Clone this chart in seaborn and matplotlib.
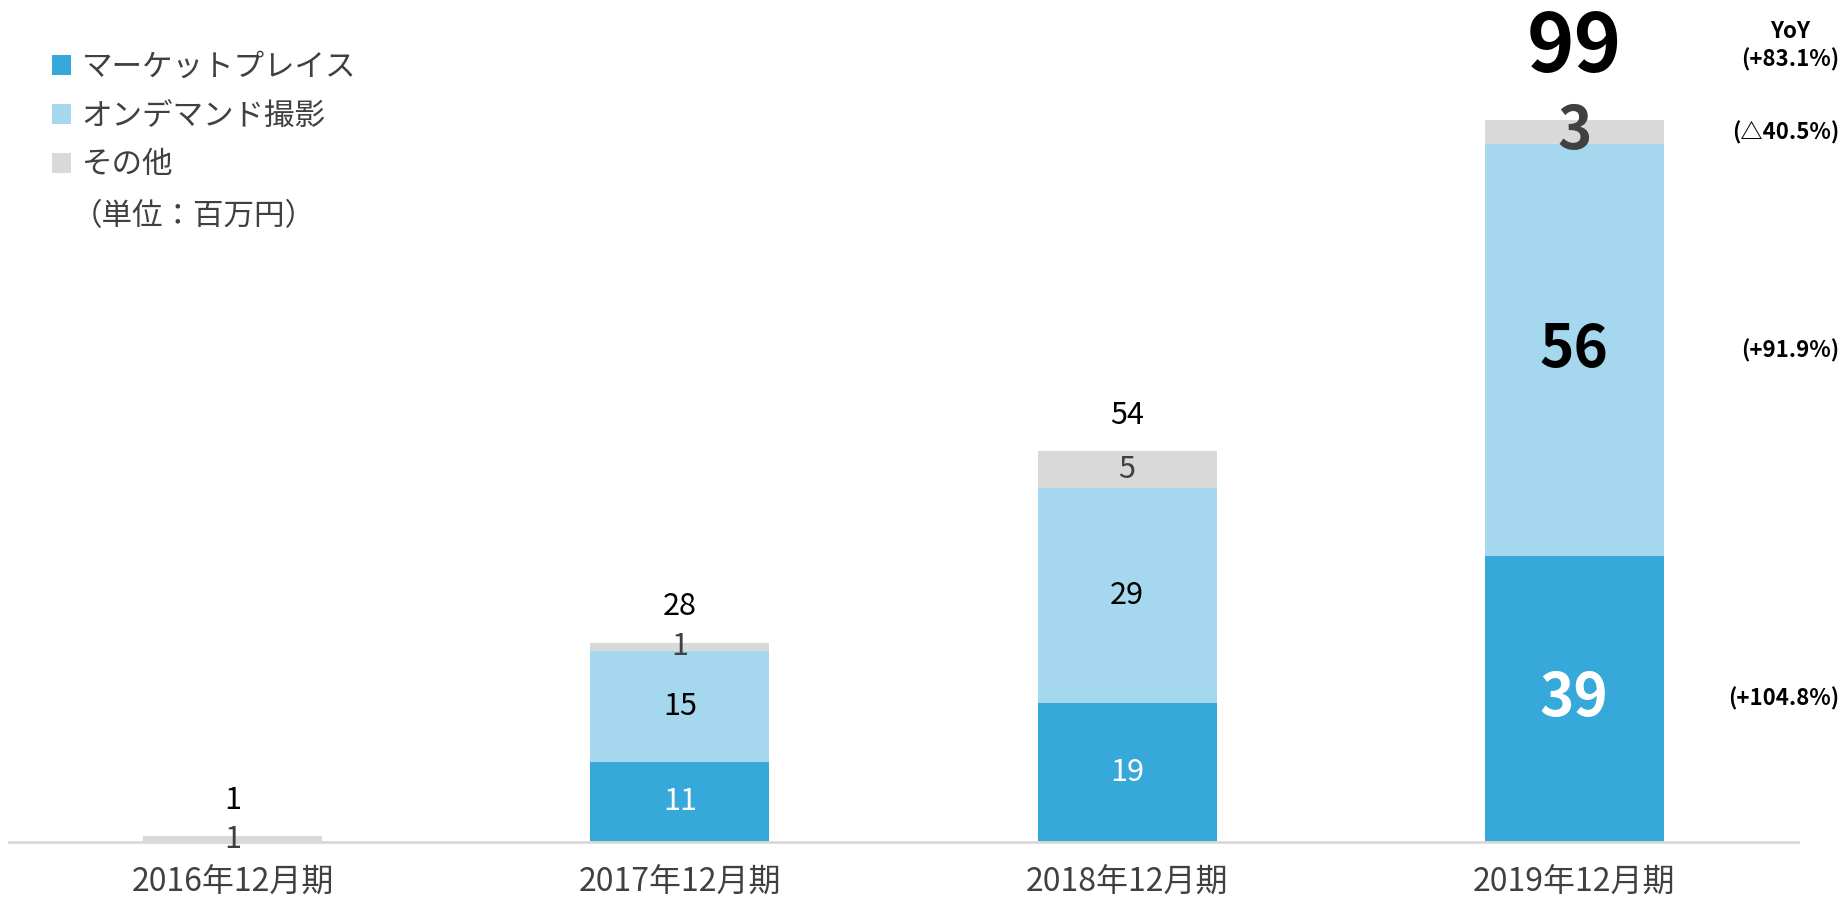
import matplotlib
matplotlib.use('Agg')
import matplotlib.pyplot as plt
from matplotlib.patches import Patch
from matplotlib.transforms import blended_transform_factory
import pandas as pd
import seaborn as sns

# data (百万円)
periods = ['2016年12月期', '2017年12月期', '2018年12月期', '2019年12月期']
marketplace = [0.0, 11.0, 19.1, 39.2]
on_demand = [0.0, 15.2, 29.4, 56.5]
other = [0.8, 1.1, 5.1, 3.3]
total_labels = ['1', '28', '54', '99']
mp_labels = ['', '11', '19', '39']
od_labels = ['', '15', '29', '56']
other_labels = ['1', '1', '5', '3']
yoy_labels = ['(+104.8%)', '(+91.9%)', '(△40.5%)', '(+83.1%)']

series_names = ['マーケットプレイス', 'オンデマンド撮影', 'その他']
colors = ['#36A8D9', '#A5D7EE', '#D9D9D9']

sns.set_theme(style='white')
plt.rcParams['font.family'] = ['Noto Sans CJK JP', 'DejaVu Sans']

df = pd.DataFrame({
    'period': periods,
    'mp': marketplace,
    'od': on_demand,
    'other': other,
})
df['mp_od'] = df['mp'] + df['od']
df['total'] = df['mp_od'] + df['other']

fig = plt.figure(figsize=(18.45, 9.02), dpi=100)
ax = fig.add_axes([9 / 1845, 60 / 902, 1789 / 1845, 842 / 902])

# stacked bars drawn as overlapping cumulative layers
for col, color in zip(['total', 'mp_od', 'mp'], [colors[2], colors[1], colors[0]]):
    sns.barplot(data=df, x='period', y=col, order=periods, color=color,
                saturation=1, width=0.4, ax=ax, errorbar=None,
                linewidth=0, edgecolor='none')

ax.set_xlim(-0.5, 3.5)
ax.set_ylim(0, 842 / 7.29)
ax.set_xlabel('')
ax.set_ylabel('')
ax.set_yticks([])
sns.despine(ax=ax, left=True, top=True, right=True)
ax.spines['bottom'].set_color('#D9D9D9')
ax.spines['bottom'].set_linewidth(2)
ax.tick_params(axis='x', length=0, pad=18, labelsize=23, labelcolor='#404040')

last = len(periods) - 1
for i, row in df.iterrows():
    big = i == last
    if row['mp'] > 0:
        ax.text(i, row['mp'] / 2, mp_labels[i], ha='center', va='center',
                color='white', fontsize=42 if big else 22,
                fontweight='bold' if big else 'normal')
    if row['od'] > 0:
        ax.text(i, row['mp'] + row['od'] / 2, od_labels[i], ha='center', va='center',
                color='black', fontsize=42 if big else 22,
                fontweight='bold' if big else 'normal')
    ax.text(i, row['mp_od'] + row['other'] / 2, other_labels[i], ha='center', va='center',
            color='#404040', fontsize=42 if big else 22,
            fontweight='bold' if big else 'normal')
    ax.annotate(total_labels[i], (i, row['total']), xytext=(0, 52 if big else 26),
                textcoords='offset points', ha='center', va='center',
                color='black', fontsize=58 if big else 22,
                fontweight='bold' if big else 'normal', annotation_clip=False)

# YoY column at right edge
trans = blended_transform_factory(fig.transFigure, ax.transData)
r = df.iloc[last]
yoy_y = [r['mp'] / 2, r['mp'] + r['od'] / 2, r['mp_od'] + r['other'] / 2]
for lbl, y in zip(yoy_labels[:3], yoy_y):
    ax.text(0.997, y, lbl, transform=trans, ha='right', va='center',
            fontsize=16, fontweight='bold', color='black', clip_on=False)
fig.text(0.997, 1 - 60 / 902, yoy_labels[3], ha='right', va='center',
         fontsize=16, fontweight='bold', color='black')
fig.text(0.970, 1 - 32 / 902, 'YoY', ha='center', va='center',
         fontsize=16, fontweight='bold', color='black')

# legend
handles = [Patch(facecolor=c, edgecolor='none') for c in colors]
leg = fig.legend(handles, series_names, loc='upper left',
                 bbox_to_anchor=(52 / 1845, 1 - 52 / 902), frameon=False,
                 fontsize=22, handlelength=0.62, handleheight=0.62,
                 handletextpad=0.35, labelspacing=0.58, borderpad=0,
                 borderaxespad=0)
for t in leg.get_texts():
    t.set_color('#404040')
fig.text(72 / 1845, 1 - 217 / 902, '（単位：百万円）', ha='left', va='center',
         fontsize=22, color='#404040')

fig.savefig('out.png', dpi=100)
